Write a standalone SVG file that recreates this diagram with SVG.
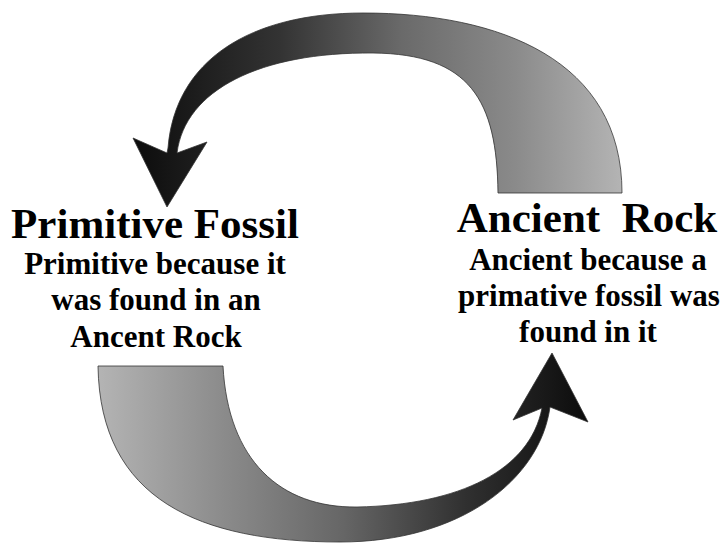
<svg xmlns="http://www.w3.org/2000/svg" width="726" height="544" viewBox="0 0 726 544">
<style>
.t{font-family:"Liberation Serif","Times New Roman",serif;font-weight:bold;fill:#000;text-anchor:middle}
.h{font-size:43px}
.s{font-size:31px}
.arr{stroke:#333;stroke-width:0.8}
</style>
<defs>
<linearGradient id="gTop" gradientUnits="userSpaceOnUse" x1="133" y1="0" x2="622" y2="0">
<stop offset="0" stop-color="#0c0c0c"/>
<stop offset="0.3" stop-color="#333"/>
<stop offset="0.55" stop-color="#6a6a6a"/>
<stop offset="0.78" stop-color="#8a8a8a"/>
<stop offset="1" stop-color="#b4b4b4"/>
</linearGradient>
<linearGradient id="gBot" gradientUnits="userSpaceOnUse" x1="98" y1="0" x2="588" y2="0">
<stop offset="0" stop-color="#b4b4b4"/>
<stop offset="0.25" stop-color="#8c8c8c"/>
<stop offset="0.5" stop-color="#666"/>
<stop offset="0.75" stop-color="#303030"/>
<stop offset="1" stop-color="#0c0c0c"/>
</linearGradient>
</defs>
<g id="connectors">
<path id="arrow-top" class="arr" fill="url(#gTop)" d="M622,193 C622,60 500,13 363,13 C250,13 175,60 168,148 L167,153 L133,138 L167,207 L207,142 L177,153 C185,90 260,52 373,53 C470,54 497,100 498,193 Z"/>
<path id="arrow-bottom" class="arr" fill="url(#gBot)" d="M98,366 C100,500 200,542 340,542 C460,542 540,480 550,407 L588,422 L552,353 L513,420 L542,408 C530,470 460,505 357,507 C280,508 228,460 223,366 Z"/>
</g>
<g id="primitive-fossil">
<text class="t h" x="155" y="238">Primitive Fossil</text>
<text class="t s" x="155" y="274">Primitive because it</text>
<text class="t s" x="156" y="310">was found in an</text>
<text class="t s" x="156" y="347">Ancent Rock</text>
</g>
<g id="ancient-rock">
<text class="t h" x="587" y="232" xml:space="preserve">Ancient  Rock</text>
<text class="t s" x="588" y="270">Ancient because a</text>
<text class="t s" x="589" y="306">primative fossil was</text>
<text class="t s" x="588" y="342">found in it</text>
</g>
</svg>
